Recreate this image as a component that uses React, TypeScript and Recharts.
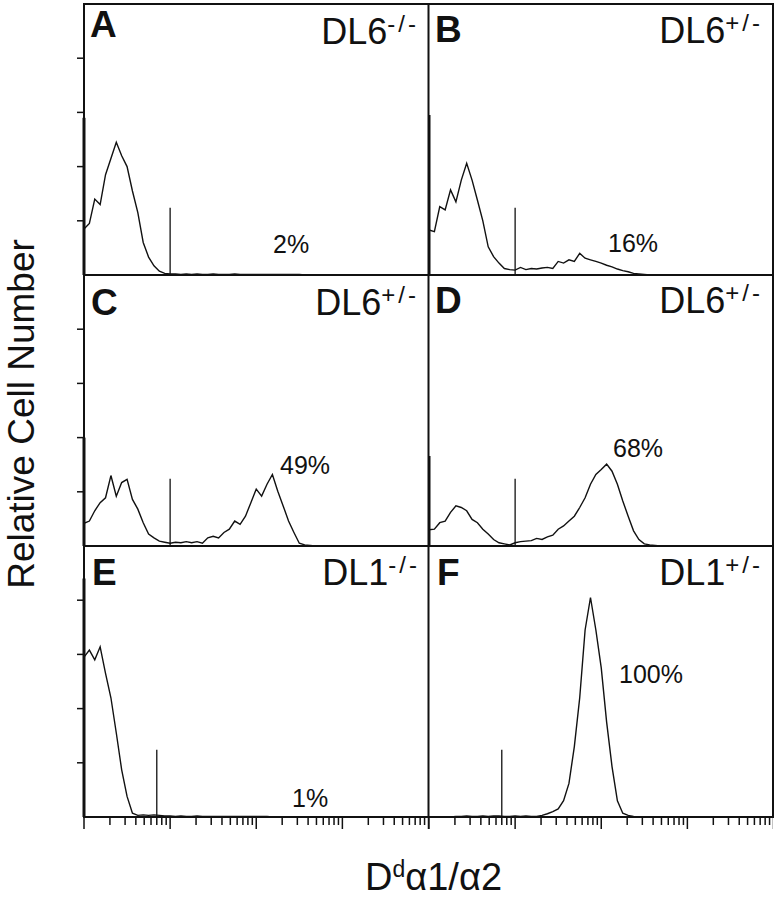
import React from 'react';
import { LineChart, Line, XAxis, YAxis, ReferenceLine } from 'recharts';

const FONT = '"Liberation Sans", Arial, Helvetica, sans-serif';
const INK = '#111';

// 64 channels over 4 log decades (16 channels per decade)
const channels = Array.from({ length: 65 }, (_, i) => +Math.pow(10, i / 16).toFixed(4));

const countsA = [
  0.85, 0.95, 1.4, 1.3, 1.85, 2.15, 2.45, 2.2, 2.0, 1.55, 1.15, 0.6, 0.33, 0.17, 0.07, 0.03,
  0.02, 0.02, 0.01, 0.02, 0.01, 0.02, 0.01, 0.01, 0.02, 0.01, 0.01, 0.01, 0.02, 0.01, 0.01, 0.01,
  0.01, 0.01, 0.01, 0.01, 0.01, 0.01, 0.01, 0.01, 0.01, 0, 0, 0, 0, 0, 0, 0,
  0, 0, 0, 0, 0, 0, 0, 0, 0, 0, 0, 0, 0, 0, 0, 0, 0,
];
const countsB = [
  0.83, 0.8, 1.26, 1.2, 1.57, 1.35, 1.75, 2.06, 1.75, 1.38, 1.0, 0.52, 0.34, 0.22, 0.12, 0.1,
  0.09, 0.14, 0.1, 0.12, 0.11, 0.13, 0.14, 0.12, 0.25, 0.22, 0.28, 0.25, 0.4, 0.31, 0.28, 0.25,
  0.22, 0.18, 0.15, 0.11, 0.08, 0.06, 0.03, 0.02, 0.01, 0, 0, 0, 0, 0, 0, 0,
  0, 0, 0, 0, 0, 0, 0, 0, 0, 0, 0, 0, 0, 0, 0, 0, 0,
];
const countsC = [
  0.42, 0.46, 0.65, 0.8, 0.89, 1.3, 0.92, 1.17, 1.23, 0.86, 0.68, 0.43, 0.22, 0.15, 0.09, 0.07,
  0.05, 0.07, 0.06, 0.08, 0.06, 0.08, 0.05, 0.15, 0.18, 0.15, 0.25, 0.31, 0.46, 0.4, 0.55, 0.8,
  1.05, 0.92, 1.14, 1.32, 1.01, 0.74, 0.46, 0.25, 0.05, 0.02, 0.01, 0, 0, 0, 0, 0,
  0, 0, 0, 0, 0, 0, 0, 0, 0, 0, 0, 0, 0, 0, 0, 0, 0,
];
const countsD = [
  0.3, 0.31, 0.43, 0.46, 0.62, 0.74, 0.71, 0.65, 0.49, 0.43, 0.31, 0.22, 0.12, 0.06, 0.04, 0.02,
  0.06, 0.08, 0.09, 0.1, 0.14, 0.12, 0.17, 0.2, 0.31, 0.37, 0.46, 0.55, 0.71, 0.89, 1.14, 1.32,
  1.41, 1.51, 1.38, 1.14, 0.83, 0.55, 0.28, 0.12, 0.04, 0.02, 0.01, 0, 0, 0, 0, 0,
  0, 0, 0, 0, 0, 0, 0, 0, 0, 0, 0, 0, 0, 0, 0, 0, 0,
];
const countsE = [
  2.95, 3.08, 2.9, 3.14, 2.65, 2.2, 1.55, 0.87, 0.38, 0.07, 0.03, 0.04, 0.03, 0.04, 0.03, 0.02,
  0.02, 0.01, 0.02, 0.01, 0.01, 0.02, 0.01, 0.01, 0.01, 0.01, 0.01, 0.01, 0.01, 0.01, 0.01, 0.01,
  0.01, 0.01, 0.01, 0, 0, 0, 0, 0, 0, 0, 0, 0, 0, 0, 0, 0,
  0, 0, 0, 0, 0, 0, 0, 0, 0, 0, 0, 0, 0, 0, 0, 0, 0,
];
const countsF = [
  0, 0, 0, 0, 0, 0.01, 0.01, 0.02, 0.01, 0.01, 0.02, 0.01, 0.02, 0.02, 0.01, 0.01,
  0.02, 0.01, 0.02, 0.01, 0.01, 0.03, 0.06, 0.1, 0.15, 0.3, 0.62, 1.3, 2.2, 3.45, 4.05, 3.45,
  2.75, 1.75, 0.93, 0.3, 0.07, 0.03, 0.01, 0, 0, 0, 0, 0, 0, 0, 0, 0,
  0, 0, 0, 0, 0, 0, 0, 0, 0, 0, 0, 0, 0, 0, 0, 0, 0,
];
// off-scale pile-up in the first channel (drawn as a spike on the left edge)
const firstChannelSpike = [2.9, 2.95, 2.0, 1.66, 4.4, 0];

const panelLetters = ['A', 'B', 'C', 'D', 'E', 'F'];
const genotypes = ['DL6', 'DL6', 'DL6', 'DL6', 'DL1', 'DL1'];
const alleles = ['-/-', '+/-', '+/-', '+/-', '-/-', '+/-'];
const percents = ['2%', '16%', '49%', '68%', '1%', '100%'];
const gates = [10, 10, 10, 10, 7, 7];
const gateHeight = 1.24;

const logTicks = [
  1, 2, 3, 4, 5, 6, 7, 8, 9,
  10, 20, 30, 40, 50, 60, 70, 80, 90,
  100, 200, 300, 400, 500, 600, 700, 800, 900,
  1000, 2000, 3000, 4000, 5000, 6000, 7000, 8000, 9000,
  10000,
];
const decades = [1, 10, 100, 1000, 10000];
const yTicks = [1, 2, 3, 4];

const rows = channels.map((x, i) => ({
  x,
  A: countsA[i],
  B: countsB[i],
  C: countsC[i],
  D: countsD[i],
  E: countsE[i],
  F: countsF[i],
}));

// layout of the 3x2 grid
const colLeft = [84, 428.5];
const colWidth = 344.5;
const rowTop = [4, 275, 546];
const rowHeight = 271;

const XTick = (props: any) => {
  const { x, y, payload } = props;
  const len = decades.includes(payload.value) ? 12 : 8;
  return <line x1={x} x2={x} y1={y} y2={y + len} stroke={INK} strokeWidth={1.5} />;
};

const Panel = ({ idx }: { idx: number }) => {
  const col = idx % 2;
  const row = Math.floor(idx / 2);
  const showY = col === 0;
  const showX = row === 2;
  const yW = showY ? 7 : 0;
  const xH = showX ? 13 : 0;
  const key = panelLetters[idx];
  return (
    <div style={{ position: 'absolute', left: colLeft[col] - yW, top: rowTop[row] }}>
      <LineChart
        width={colWidth + yW}
        height={rowHeight + xH}
        data={rows}
        margin={{ top: 0, right: 0, bottom: 0, left: 0 }}
      >
        <XAxis
          dataKey="x"
          type="number"
          scale="log"
          domain={[1, 10000]}
          ticks={logTicks}
          interval={0}
          hide={!showX}
          height={xH}
          axisLine={false}
          tickLine={false}
          tickSize={0}
          tickMargin={0}
          tick={<XTick />}
          allowDataOverflow
        />
        <YAxis
          type="number"
          domain={[0, 5]}
          ticks={yTicks}
          hide={!showY}
          width={yW}
          axisLine={false}
          tickSize={7}
          tickMargin={0}
          tickFormatter={() => ''}
          tickLine={{ stroke: INK, strokeWidth: 1.5 }}
          allowDataOverflow
        />
        <Line
          dataKey={key}
          type="linear"
          stroke={INK}
          strokeWidth={1.4}
          dot={false}
          isAnimationActive={false}
        />
        {firstChannelSpike[idx] > 0 && (
          <ReferenceLine
            segment={[{ x: 1, y: 0 }, { x: 1, y: firstChannelSpike[idx] }]}
            stroke={INK}
            strokeWidth={3}
          />
        )}
        <ReferenceLine
          segment={[{ x: gates[idx], y: 0 }, { x: gates[idx], y: gateHeight }]}
          stroke={INK}
          strokeWidth={1.3}
        />
      </LineChart>
    </div>
  );
};

// text positions (baseline) for each panel
const letterPos = [[90, 37], [435, 42], [91, 315], [435, 313], [92, 585], [437, 585]];
const genoPos = [[419, 44], [763, 43], [419, 315], [763, 313], [420, 585], [763, 585]];
const pctPos = [[273, 253], [608, 252], [280, 474], [613, 457], [292, 807], [619, 683]];

export default function App() {
  const gridLeft = colLeft[0];
  const gridRight = colLeft[1] + colWidth;
  const gridTop = rowTop[0];
  const gridBottom = rowTop[2] + rowHeight;
  return (
    <div style={{ position: 'absolute', left: 0, top: 0, width: 778, height: 899, background: '#fff' }}>
      {panelLetters.map((_, i) => (
        <Panel key={i} idx={i} />
      ))}
      <svg
        width={778}
        height={899}
        style={{ position: 'absolute', left: 0, top: 0, pointerEvents: 'none' }}
        fontFamily={FONT}
      >
        <rect
          x={gridLeft}
          y={gridTop}
          width={gridRight - gridLeft}
          height={gridBottom - gridTop}
          fill="none"
          stroke={INK}
          strokeWidth={2}
        />
        <line x1={colLeft[1]} x2={colLeft[1]} y1={gridTop} y2={gridBottom} stroke={INK} strokeWidth={2} />
        <line x1={gridLeft} x2={gridRight} y1={rowTop[1]} y2={rowTop[1]} stroke={INK} strokeWidth={2} />
        <line x1={gridLeft} x2={gridRight} y1={rowTop[2]} y2={rowTop[2]} stroke={INK} strokeWidth={2} />

        {panelLetters.map((l, i) => (
          <text key={'l' + i} x={letterPos[i][0]} y={letterPos[i][1]} fontSize={37} fontWeight="bold" fill={INK}>
            {l}
          </text>
        ))}
        {genotypes.map((g, i) => (
          <text key={'g' + i} x={genoPos[i][0]} y={genoPos[i][1]} fontSize={36} textAnchor="end" fill={INK}>
            {g}
            <tspan fontSize={24} dy={-12} letterSpacing={3}>
              {alleles[i]}
            </tspan>
          </text>
        ))}
        {percents.map((p, i) => (
          <text key={'p' + i} x={pctPos[i][0]} y={pctPos[i][1]} fontSize={25} fill={INK}>
            {p}
          </text>
        ))}

        <text x={34} y={414} fontSize={37} textAnchor="middle" transform="rotate(-90 34 414)" fill={INK}>
          Relative Cell Number
        </text>
        <text x={365} y={890} fontSize={38} fill={INK}>
          D
          <tspan fontSize={23} dy={-13}>d</tspan>
          <tspan dy={13}>α1/α2</tspan>
        </text>
      </svg>
    </div>
  );
}
